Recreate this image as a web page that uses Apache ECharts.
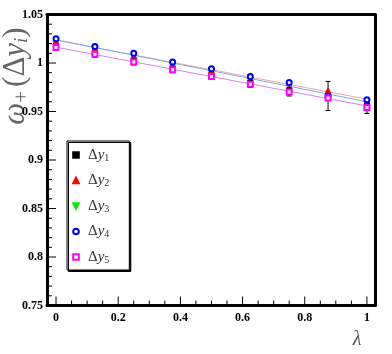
<!DOCTYPE html>
<html>
<head>
<meta charset="utf-8">
<script src="https://cdn.jsdelivr.net/npm/echarts@6/dist/echarts.min.js"></script>
<style>
  html, body { margin: 0; padding: 0; background: #fff; }
  #chart { width: 392px; height: 354px; }
</style>
</head>
<body>
<div id="chart"></div>
<script>
// lambda values and the five omega_+ series
var lambdas = [0, 0.125, 0.25, 0.375, 0.5, 0.625, 0.75, 0.875, 1];
var dy1 = [1.018, 1.010, 1.003, 0.994, 0.988, 0.980, 0.972, 0.966, 0.956];
var dy2 = [1.022, 1.015, 1.008, 1.000, 0.993, 0.986, 0.979, 0.972, 0.962];
var dy3 = [1.024, 1.017, 1.009, 1.000, 0.993, 0.985, 0.979, 0.965, 0.961];
var dy4 = [1.025, 1.017, 1.010, 1.001, 0.994, 0.986, 0.980, 0.966, 0.962];
var dy5 = [1.016, 1.009, 1.001, 0.993, 0.986, 0.978, 0.970, 0.964, 0.954];
// error on dy1 (the black points)
var dy1Err = [0.004, 0.004, 0.005, 0.004, 0.004, 0.005, 0.006, 0.015, 0.008];

// straight line fits, value at lambda=0 and lambda=1
var fitEnds = [0, 1];
var fitRed = [1.0235, 0.9627];
var fitBlue = [1.024, 0.960];
var fitMagenta = [1.0163, 0.9557];

// tick positions
var xMajor = [0, 0.2, 0.4, 0.6, 0.8, 1];
var xMinor = [0.05, 0.1, 0.15, 0.25, 0.3, 0.35, 0.45, 0.5, 0.55, 0.65, 0.7, 0.75, 0.85, 0.9, 0.95];
var yMajor = [0.75, 0.8, 0.85, 0.9, 0.95, 1, 1.05];
var yMinor = [0.76, 0.77, 0.78, 0.79, 0.81, 0.82, 0.83, 0.84, 0.86, 0.87, 0.88, 0.89,
    0.91, 0.92, 0.93, 0.94, 0.96, 0.97, 0.98, 0.99, 1.01, 1.02, 1.03, 1.04];

var X_MIN = -0.029, X_MAX = 1.026, Y_MIN = 0.75, Y_MAX = 1.05;

function pairs(xs, ys) {
    var out = [];
    for (var i = 0; i < xs.length; i++) out.push([xs[i], ys[i]]);
    return out;
}

var errData = [];
for (var i = 0; i < lambdas.length; i++) {
    errData.push([lambdas[i], dy1[i] - dy1Err[i], dy1[i] + dy1Err[i]]);
}

// [value, 0 = x axis / 1 = y axis, tick length]
var tickData = [];
xMajor.forEach(function (v) { tickData.push([v, 0, 9]); });
xMinor.forEach(function (v) { tickData.push([v, 0, 5]); });
yMajor.forEach(function (v) { tickData.push([v, 1, 9]); });
yMinor.forEach(function (v) { tickData.push([v, 1, 5]); });

var chart = echarts.init(document.getElementById('chart'));

var tickFont = {color: '#000', fontFamily: 'Liberation Sans Narrow', fontWeight: 'bold', fontSize: 12};
var mathRich = {
    d: {fontFamily: 'Liberation Serif', fontSize: 15, color: '#333', lineHeight: 14},
    y: {fontFamily: 'Liberation Serif', fontStyle: 'italic', fontSize: 15, color: '#333', lineHeight: 14},
    s: {fontFamily: 'Liberation Serif', fontSize: 10, color: '#333', lineHeight: 14, padding: [6, 0, 0, 0]}
};
var frameLine = {show: true, onZero: false, lineStyle: {color: '#000', width: 3}};

function pointSeries(name, data, symbol, size, color, rotate) {
    return {
        name: name, type: 'line', data: pairs(lambdas, data),
        symbol: symbol, symbolSize: size, symbolRotate: rotate || 0,
        showSymbol: true, showAllSymbol: true,
        lineStyle: {opacity: 0, width: 0},
        itemStyle: {color: color, borderColor: color, borderWidth: 1},
        animation: false, z: 5
    };
}

function fitSeries(vals, color) {
    return {
        type: 'line', data: pairs(fitEnds, vals), symbol: 'none',
        lineStyle: {color: color, width: 1}, animation: false, z: 3, silent: true
    };
}

var option = {
    animation: false,
    grid: {left: 47, right: 17, top: 14.5, bottom: 48.5},
    xAxis: [{
        type: 'value', min: X_MIN, max: X_MAX, position: 'bottom',
        axisLine: frameLine, splitLine: {show: false}, axisTick: {show: false},
        axisLabel: Object.assign({margin: 6, customValues: xMajor}, tickFont)
    }, {
        type: 'value', min: X_MIN, max: X_MAX, position: 'top',
        axisLine: {show: true, onZero: false, lineStyle: {color: '#000', width: 3}},
        splitLine: {show: false}, axisTick: {show: false}, axisLabel: {show: false}
    }],
    yAxis: [{
        type: 'value', min: Y_MIN, max: Y_MAX, interval: 0.05, position: 'left',
        axisLine: frameLine, splitLine: {show: false}, axisTick: {show: false},
        axisLabel: Object.assign({margin: 4}, tickFont)
    }, {
        type: 'value', min: Y_MIN, max: Y_MAX, position: 'right',
        axisLine: {show: true, onZero: false, lineStyle: {color: '#000', width: 3}},
        splitLine: {show: false}, axisTick: {show: false}, axisLabel: {show: false}
    }],
    legend: {
        data: ['dy1', 'dy2', 'dy3', 'dy4', 'dy5'],
        orient: 'vertical', left: 67, top: 141,
        padding: [6, 20, 5, 2],
        itemWidth: 14, itemHeight: 7, itemGap: 9.5,
        backgroundColor: '#fff', borderColor: '#000', borderWidth: 1,
        shadowColor: '#000', shadowBlur: 0, shadowOffsetX: 1.5, shadowOffsetY: 1.5,
        lineStyle: {opacity: 0},
        formatter: function (name) {
            return '{d|\u0394}{y|y}{s|' + name.slice(2) + '}';
        },
        textStyle: {rich: mathRich}
    },
    graphic: [{
        type: 'text', x: 16, y: 76, rotation: Math.PI / 2,
        style: {
            text: '{w|\u03c9}{p|+}{d|(\u0394}{y|y}{s|i}{d|)}',
            align: 'center', verticalAlign: 'middle',
            rich: {
                w: {fontFamily: 'Liberation Serif', fontStyle: 'italic', fontSize: 31, fill: '#666'},
                p: {fontFamily: 'Liberation Serif', fontSize: 21, fill: '#666', padding: [12, 4, 0, 0]},
                d: {fontFamily: 'Liberation Serif', fontSize: 31, fill: '#666'},
                y: {fontFamily: 'Liberation Serif', fontStyle: 'italic', fontSize: 31, fill: '#666'},
                s: {fontFamily: 'Liberation Serif', fontStyle: 'italic', fontSize: 19, fill: '#666', padding: [12, 0, 0, 0]}
            }
        }
    }, {
        type: 'text', x: 357, y: 340,
        style: {
            text: '\u03bb', align: 'center', verticalAlign: 'middle',
            fontFamily: 'Liberation Serif', fontStyle: 'italic', fontSize: 20, fill: '#555'
        }
    }],
    series: [
        {
            // inward tick marks on the bottom and left frame
            type: 'custom', data: tickData, z: 6, silent: true,
            renderItem: function (params, api) {
                var v = api.value(0), onY = api.value(1) === 1, len = api.value(2);
                var p = onY ? api.coord([X_MIN, v]) : api.coord([v, Y_MIN]);
                var shape = onY
                    ? {x1: p[0], y1: p[1], x2: p[0] + len, y2: p[1]}
                    : {x1: p[0], y1: p[1], x2: p[0], y2: p[1] - len};
                return {type: 'line', shape: shape, style: {stroke: '#000', lineWidth: 1}};
            }
        },
        fitSeries(fitMagenta, '#d584e6'),
        fitSeries(fitRed, '#f5a5a5'),
        fitSeries(fitBlue, '#79aed6'),
        {
            type: 'custom', data: errData, z: 4, silent: true,
            renderItem: function (params, api) {
                var lo = api.coord([api.value(0), api.value(1)]);
                var hi = api.coord([api.value(0), api.value(2)]);
                var style = {stroke: '#000', lineWidth: 1};
                return {
                    type: 'group', children: [
                        {type: 'line', shape: {x1: lo[0], y1: lo[1], x2: hi[0], y2: hi[1]}, style: style},
                        {type: 'line', shape: {x1: lo[0] - 2.5, y1: lo[1], x2: lo[0] + 2.5, y2: lo[1]}, style: style},
                        {type: 'line', shape: {x1: hi[0] - 2.5, y1: hi[1], x2: hi[0] + 2.5, y2: hi[1]}, style: style}
                    ]
                };
            }
        },
        pointSeries('dy1', dy1, 'rect', 5, '#000'),
        pointSeries('dy2', dy2, 'triangle', 5, '#ff0000'),
        pointSeries('dy3', dy3, 'triangle', 5, '#00ee00', 180),
        pointSeries('dy4', dy4, 'emptyCircle', 5, '#0000ff'),
        pointSeries('dy5', dy5, 'emptyRect', 5, '#ff00ff')
    ]
};

chart.setOption(option);
</script>
</body>
</html>
